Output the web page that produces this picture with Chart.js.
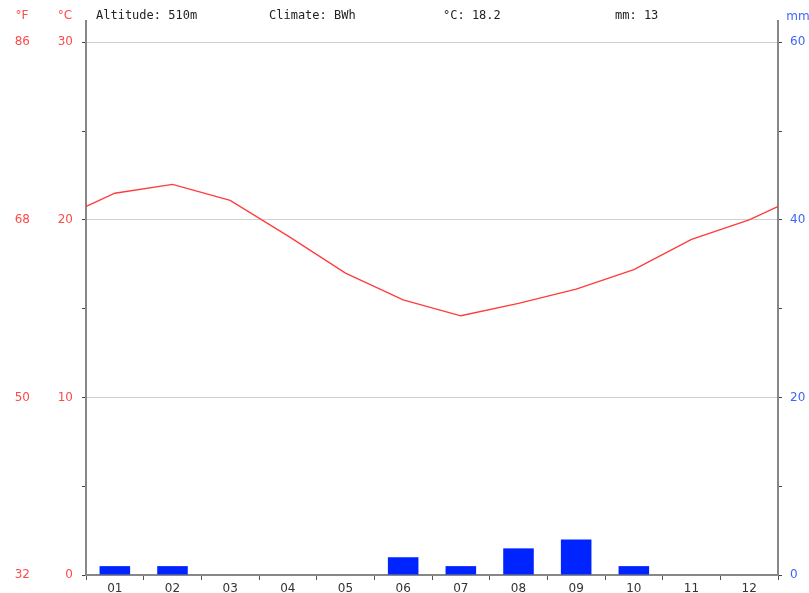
<!DOCTYPE html>
<html>
<head>
<meta charset="utf-8">
<title>Climate chart</title>
<script src="https://cdn.jsdelivr.net/npm/chart.js@4"></script>
<style>
  html, body { margin: 0; padding: 0; background: #fff; }
  canvas { display: block; }
</style>
</head>
<body>
<canvas id="climateChart" width="809" height="593"></canvas>
<script>
// Monthly climate normals
const months = ['01', '02', '03', '04', '05', '06', '07', '08', '09', '10', '11', '12'];
const tempC = [21.5, 22.0, 21.1, 19.1, 17.0, 15.5, 14.6, 15.3, 16.1, 17.2, 18.9, 20.0];
const precipMm = [1, 1, 0, 0, 0, 2, 1, 3, 4, 1, 0, 0];
const tickF = [32, 50, 68, 86];
const altitude = '510m';
const climateClass = 'BWh';

const RED = '#ff4a4a';
const BLUE = '#3f63ff';
const SANS = "'DejaVu Sans', sans-serif";
const MONO = "'DejaVu Sans Mono', monospace";

const meanTemp = tempC.reduce((a, b) => a + b, 0) / tempC.length;
const totalPrecip = precipMm.reduce((a, b) => a + b, 0);

// temperature line wraps around the year: December before January, January after December
const tempPoints = [{ x: 0, y: tempC[11] }]
  .concat(tempC.map((t, i) => ({ x: i + 1, y: t })))
  .concat([{ x: 13, y: tempC[0] }]);

// headroom above 30 °C so the axis lines run up past the top grid line
const C_MAX = 31.2;
const keepSteps = (step) => (scale) => {
  scale.ticks = scale.ticks.filter(t => Math.abs(t.value / step - Math.round(t.value / step)) < 1e-6);
};

const headerText = {
  id: 'headerText',
  afterDraw(chart) {
    const c = chart.ctx;
    c.save();
    c.textBaseline = 'middle';
    c.font = '12px ' + SANS;
    c.textAlign = 'center';
    c.fillStyle = RED;
    c.fillText('°F', 22, 16);
    c.fillText('°C', 65, 16);
    c.fillStyle = BLUE;
    c.fillText('mm', 798, 17);
    c.font = '12px ' + MONO;
    c.textAlign = 'left';
    c.fillStyle = '#222';
    c.fillText('Altitude: ' + altitude, 96, 16);
    c.fillText('Climate: ' + climateClass, 269, 16);
    c.fillText('°C: ' + meanTemp.toFixed(1), 443, 16);
    c.fillText('mm: ' + totalPrecip, 615, 16);
    c.restore();
  }
};

new Chart(document.getElementById('climateChart'), {
  type: 'bar',
  data: {
    labels: months,
    datasets: [
      {
        type: 'line',
        data: tempPoints,
        xAxisID: 'xl',
        yAxisID: 'y',
        borderColor: '#ff3b3b',
        borderWidth: 1.3,
        pointRadius: 0,
        tension: 0,
        fill: false,
        grouped: false,
        order: 0
      },
      {
        type: 'bar',
        data: precipMm,
        xAxisID: 'x',
        yAxisID: 'y2',
        backgroundColor: '#0024ff',
        borderWidth: 0,
        grouped: false,
        categoryPercentage: 1,
        barPercentage: 0.53,
        order: 1
      }
    ]
  },
  options: {
    responsive: false,
    animation: false,
    layout: { padding: { top: 21, left: 0, right: 0, bottom: 0 } },
    plugins: {
      legend: { display: false },
      tooltip: { enabled: false }
    },
    scales: {
      x: {
        type: 'category',
        position: 'bottom',
        offset: true,
        grid: {
          offset: true,
          drawOnChartArea: false,
          tickLength: 5,
          tickColor: '#555'
        },
        border: { color: '#888', width: 2 },
        ticks: { color: '#333', font: { family: SANS, size: 12 }, padding: 2 },
        afterFit(s) { s.height = 18; }
      },
      xl: {
        type: 'linear',
        display: false,
        offset: false,
        bounds: 'data',
        min: 0.5,
        max: 12.5,
        grid: { offset: false }
      },
      y: {
        position: 'left',
        weight: 0,
        min: 0,
        max: C_MAX,
        ticks: {
          stepSize: 5,
          color: RED,
          font: { family: SANS, size: 12 },
          padding: 9,
          callback: v => (v % 10 === 0 ? String(v) : '')
        },
        afterBuildTicks: keepSteps(5),
        grid: {
          color: ctx => (ctx.tick && ctx.tick.value % 10 === 0 && ctx.tick.value > 0 ? '#cfcfcf' : 'rgba(0,0,0,0)'),
          lineWidth: 1,
          tickLength: 4,
          tickColor: '#444'
        },
        border: { color: '#888', width: 2 },
        afterFit(s) { s.width = 46; }
      },
      yF: {
        position: 'left',
        weight: 1,
        min: 32,
        max: 32 + C_MAX * 1.8,
        ticks: {
          color: RED,
          font: { family: SANS, size: 12 },
          padding: 10
        },
        afterBuildTicks(scale) { scale.ticks = tickF.map(v => ({ value: v })); },
        grid: { display: false, drawTicks: false },
        border: { display: false },
        afterFit(s) { s.width = 40; }
      },
      y2: {
        position: 'right',
        min: 0,
        max: C_MAX * 2,
        ticks: {
          stepSize: 10,
          color: BLUE,
          font: { family: SANS, size: 12 },
          padding: 8,
          callback: v => (v % 20 === 0 ? String(v) : '')
        },
        afterBuildTicks: keepSteps(10),
        grid: {
          drawOnChartArea: false,
          tickLength: 4,
          tickColor: '#444'
        },
        border: { color: '#888', width: 2 },
        afterFit(s) { s.width = 31; }
      }
    }
  },
  plugins: [headerText]
});
</script>
</body>
</html>
